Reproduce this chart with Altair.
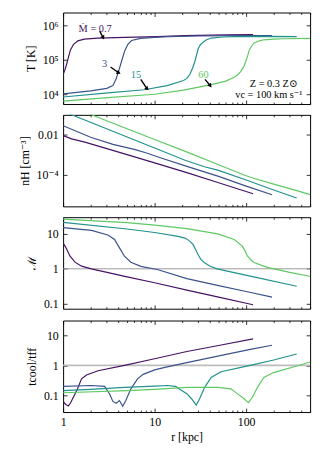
import altair as alt
import pandas as pd

FONT = "Liberation Serif, DejaVu Serif, serif"
series = ["0.7", "3", "15", "60"]
colors = ["#471365", "#3b528b", "#21918c", "#5ec962"]

# ---- panel 1: log10 T [K] vs r [kpc] ----
T_r_a = [1.0, 1.05, 1.1, 1.15, 1.2, 1.3, 1.45, 1.7, 2.4, 4.7, 10.7, 21.5, 60, 119]
T_v_a = [4.57, 4.72, 4.9, 5.1, 5.28, 5.45, 5.55, 5.60, 5.63, 5.65, 5.67, 5.70, 5.72, 5.73]
T_r_b = [1, 1.5, 2, 3, 3.5, 3.8, 4.1, 4.4, 4.7, 5.1, 5.6, 7, 10, 14, 30, 80, 192]
T_v_b = [4.01, 4.06, 4.10, 4.17, 4.25, 4.45, 4.72, 5.0, 5.25, 5.45, 5.56, 5.62, 5.65, 5.67, 5.69, 5.70, 5.70]
T_r_c = [1, 3.09, 7.7, 13.7, 20.7, 22.5, 24.3, 26, 27.5, 29.9, 31.5, 33.8, 37, 41.6, 55, 74, 170, 357]
T_v_c = [3.92, 4.04, 4.13, 4.25, 4.40, 4.46, 4.58, 4.76, 4.95, 5.32, 5.43, 5.51, 5.58, 5.63, 5.66, 5.67, 5.68, 5.67]
T_r_d = [1, 3.09, 10, 20.7, 41.6, 60, 74, 82, 88, 94, 99, 104, 108, 115, 122, 140, 156, 200, 257, 510]
T_v_d = [3.80, 3.90, 4.0, 4.12, 4.28, 4.38, 4.49, 4.58, 4.67, 4.80, 4.95, 5.12, 5.28, 5.40, 5.49, 5.55, 5.58, 5.60, 5.61, 5.62]

# ---- panel 2: log10 n_H [cm^-3] ----
n_r_a = [1, 1.24, 1.73, 5, 10, 22.5, 50, 119]
n_v_a = [-2.05, -2.21, -2.37, -2.99, -3.40, -3.88, -4.38, -4.93]
n_r_b = [1, 2, 3.5, 4.7, 6, 8, 12, 22.5, 50, 100, 192]
n_v_b = [-1.56, -2.13, -2.48, -2.62, -2.73, -2.90, -3.17, -3.57, -4.07, -4.55, -4.98]
n_r_c = [1, 1.24, 2.4, 5, 10, 21.5, 35, 49, 100, 200, 357]
n_v_c = [-0.85, -1.02, -1.54, -2.12, -2.66, -3.27, -3.59, -3.76, -4.25, -4.74, -5.14]
n_r_d = [1, 2.04, 5, 10, 22, 50, 95, 110, 121, 200, 350, 510]
n_v_d = [-0.47, -1.02, -1.71, -2.24, -2.84, -3.49, -4.0, -4.10, -4.16, -4.45, -4.76, -4.98]

# ---- panel 3: log10 Mach number ----
M_r_a = [1, 1.05, 1.1, 1.19, 1.35, 1.59, 2.04, 5, 10, 22.5, 50, 119]
M_v_a = [0.74, 0.65, 0.55, 0.36, 0.19, 0.075, 0.0, -0.23, -0.40, -0.61, -0.81, -1.03]
M_r_b = [1, 2.04, 3.09, 3.65, 4.13, 4.68, 5.5, 7.07, 10.7, 22.5, 50, 100, 192]
M_v_b = [1.18, 1.10, 0.97, 0.84, 0.60, 0.36, 0.19, 0.07, -0.02, -0.28, -0.48, -0.65, -0.81]
M_r_c = [1, 5, 10, 18, 21.5, 24, 26.4, 28, 29.9, 32, 35.2, 40, 48, 111, 357]
M_v_c = [1.33, 1.14, 1.04, 0.93, 0.88, 0.80, 0.69, 0.55, 0.40, 0.27, 0.17, 0.08, 0.0, -0.21, -0.50]
M_r_d = [1, 5, 10, 22.5, 49, 74, 90.8, 97, 103, 112, 122, 170, 300, 510]
M_v_d = [1.42, 1.32, 1.25, 1.15, 1.0, 0.84, 0.65, 0.52, 0.37, 0.26, 0.18, 0.04, -0.10, -0.22]

# ---- panel 4: log10 t_cool / t_ff ----
C_r_a = [1, 1.07, 1.14, 1.2, 1.29, 1.41, 1.59, 1.8, 2.41, 4.68, 10, 22.5, 50, 119]
C_v_a = [-1.20, -1.30, -1.35, -1.26, -1.07, -0.84, -0.45, -0.32, -0.18, 0.0, 0.22, 0.46, 0.66, 0.88]
C_r_b = [1, 2.04, 2.84, 3.22, 3.5, 3.8, 4.13, 4.48, 4.86, 5.5, 6.5, 7.5, 10, 13.7, 22.5, 49, 111, 192]
C_v_b = [-0.70, -0.67, -0.70, -0.95, -1.20, -1.26, -1.17, -1.36, -1.16, -0.78, -0.45, -0.30, -0.15, -0.05, 0.09, 0.31, 0.53, 0.67]
C_r_c = [1, 2, 4.68, 10, 13.7, 17, 19, 22.5, 25.3, 28.5, 31, 35.2, 41.5, 53, 111, 200, 357]
C_v_c = [-0.84, -0.80, -0.73, -0.69, -0.67, -0.70, -0.80, -0.94, -1.11, -1.32, -1.11, -0.73, -0.40, -0.21, 0.0, 0.18, 0.38]
C_r_d = [1, 5, 10, 22.5, 49, 68, 80, 95, 106, 117, 133, 156, 199, 357, 510]
C_v_d = [-0.91, -0.84, -0.80, -0.73, -0.73, -0.78, -0.94, -1.11, -1.24, -1.06, -0.73, -0.40, -0.24, -0.02, 0.12]

# ---- annotations (panel 1) ----
lab_text = ["Ṁ = 0.7", "3", "15", "60"]
lab_r = [2.24, 2.84, 6.24, 34.1]
lab_logT = [5.89, 4.89, 4.55, 4.57]
arr_r0 = [2.51, 3.3, 7.06, 35.5]
arr_logT0 = [5.83, 4.79, 4.43, 4.43]
arr_r1 = [2.72, 4.0, 8.2, 40.2]
arr_logT1 = [5.66, 4.63, 4.17, 4.26]
arr_angle = [153, 117, 135, 143]
note_text = ["Z = 0.3 Z⊙", "vc = 100 km s⁻¹"]
note_r = [200, 177]
note_logT = [4.30, 3.97]

# ---- axes ----
X_DOMAIN = [1, 500]
X_MAJOR = [1, 10, 100]
X_LABELS = ["1", "10", "100"]
X_MINOR = [2, 3, 4, 5, 6, 7, 8, 9, 20, 30, 40, 50, 60, 70, 80, 90, 200, 300, 400, 500]

panels = [
    dict(title="T [K]", dom=[5.2e3, 2.35e6], ticks=[1e4, 1e5, 1e6], labels=["10⁴", "10⁵", "10⁶"],
         data=[(T_r_a, T_v_a), (T_r_b, T_v_b), (T_r_c, T_v_c), (T_r_d, T_v_d)], ref=None),
    dict(title="nH [cm⁻³]", dom=[2.8e-6, 0.095], ticks=[1e-4, 1e-2], labels=["10⁻⁴", "0.01"],
         data=[(n_r_a, n_v_a), (n_r_b, n_v_b), (n_r_c, n_v_c), (n_r_d, n_v_d)], ref=None),
    dict(title="ℳ", dom=[0.072, 30], ticks=[0.1, 1, 10], labels=["0.1", "1", "10"],
         data=[(M_r_a, M_v_a), (M_r_b, M_v_b), (M_r_c, M_v_c), (M_r_d, M_v_d)], ref=("#999999", 1.0)),
    dict(title="tcool/tff", dom=[0.028, 31], ticks=[0.1, 1, 10], labels=["0.1", "1", "10"],
         data=[(C_r_a, C_v_a), (C_r_b, C_v_b), (C_r_c, C_v_c), (C_r_d, C_v_d)], ref=("#bdbdbd", 1.8)),
]


def label_expr(values, labels):
    parts = [f"datum.value == {v!r} ? '{l}'" for v, l in zip(values, labels)]
    return " : ".join(parts) + " : ''"


W, H = 251, 93
color_scale = alt.Scale(domain=series, range=colors)
xscale = alt.Scale(type="log", domain=X_DOMAIN, nice=False)


def make_panel(i, p):
    rows = []
    for s, (rs, vs) in zip(series, p["data"]):
        for k, (r, v) in enumerate(zip(rs, vs)):
            rows.append({"series": s, "r": r, "v": 10 ** v, "k": k})
    df = pd.DataFrame(rows)
    yscale = alt.Scale(type="log", domain=p["dom"], nice=False)
    bottom = i == 3

    ax_bottom = alt.Axis(orient="bottom", values=X_MAJOR, tickSize=4, offset=-4, domain=False, grid=False,
                         labels=bottom, labelExpr=label_expr(X_MAJOR, X_LABELS), labelFlush=False,
                         labelPadding=5, titlePadding=4, title="r [kpc]" if bottom else None)
    ax_bottom_minor = alt.Axis(orient="bottom", values=X_MINOR, tickSize=2, offset=-2, domain=False,
                               grid=False, labels=False, title=None)
    ax_top = alt.Axis(orient="top", values=X_MAJOR, tickSize=4, offset=-4, domain=False, grid=False,
                      labels=False, title=None)
    ax_top_minor = alt.Axis(orient="top", values=X_MINOR, tickSize=2, offset=-2, domain=False,
                            grid=False, labels=False, title=None)
    ax_left = alt.Axis(orient="left", values=p["ticks"], tickSize=4, offset=-4, domain=False, grid=False,
                       labelExpr=label_expr(p["ticks"], p["labels"]), labelPadding=5, titlePadding=5,
                       title=p["title"])
    ax_right = alt.Axis(orient="right", values=p["ticks"], tickSize=4, offset=-4, domain=False, grid=False,
                        labels=False, title=None)

    base = alt.Chart(df)
    lines = base.mark_line(strokeWidth=1.2, clip=True).encode(
        x=alt.X("r:Q", scale=xscale, axis=ax_bottom),
        y=alt.Y("v:Q", scale=yscale, axis=ax_left),
        color=alt.Color("series:N", scale=color_scale, legend=None),
        order="k:Q",
    )
    inv1 = base.mark_line(opacity=0, clip=True).encode(
        x=alt.X("r:Q", scale=xscale, axis=ax_bottom_minor),
        y=alt.Y("v:Q", scale=yscale, axis=ax_right),
        detail="series:N",
    )
    inv2 = base.mark_line(opacity=0, clip=True).encode(
        x=alt.X("r:Q", scale=xscale, axis=ax_top),
        y=alt.Y("v:Q", scale=yscale, axis=None),
        detail="series:N",
    )
    inv3 = base.mark_line(opacity=0, clip=True).encode(
        x=alt.X("r:Q", scale=xscale, axis=ax_top_minor),
        y=alt.Y("v:Q", scale=yscale, axis=None),
        detail="series:N",
    )
    layers = []
    if p["ref"] is not None:
        col, w = p["ref"]
        ref = alt.Chart(pd.DataFrame({"v": [1.0]})).mark_rule(color=col, strokeWidth=w).encode(
            y=alt.Y("v:Q", scale=yscale, axis=None))
        layers.append(ref)
    layers += [lines, inv1, inv2, inv3]

    if i == 0:
        lab_df = pd.DataFrame({"text": lab_text, "r": lab_r, "v": [10 ** t for t in lab_logT],
                               "series": series})
        labels = alt.Chart(lab_df).mark_text(fontSize=10.5, font=FONT).encode(
            x=alt.X("r:Q", scale=xscale, axis=None),
            y=alt.Y("v:Q", scale=yscale, axis=None),
            text="text:N",
            color=alt.Color("series:N", scale=color_scale, legend=None),
        )
        arr_df = pd.DataFrame({"r0": arr_r0, "v0": [10 ** t for t in arr_logT0],
                               "r1": arr_r1, "v1": [10 ** t for t in arr_logT1], "ang": arr_angle})
        shafts = alt.Chart(arr_df).mark_rule(color="black", strokeWidth=1.4).encode(
            x=alt.X("r0:Q", scale=xscale, axis=None), y=alt.Y("v0:Q", scale=yscale, axis=None),
            x2="r1:Q", y2="v1:Q")
        heads = alt.Chart(arr_df).mark_point(shape="triangle", filled=True, color="black", size=22,
                                             opacity=1).encode(
            x=alt.X("r1:Q", scale=xscale, axis=None), y=alt.Y("v1:Q", scale=yscale, axis=None),
            angle=alt.Angle("ang:Q", scale=None))
        note_df = pd.DataFrame({"text": note_text, "r": note_r, "v": [10 ** t for t in note_logT]})
        notes = alt.Chart(note_df).mark_text(fontSize=10.5, font=FONT, color="black").encode(
            x=alt.X("r:Q", scale=xscale, axis=None), y=alt.Y("v:Q", scale=yscale, axis=None),
            text="text:N")
        layers += [shafts, heads, labels, notes]

    return alt.layer(*layers).resolve_axis(x="independent", y="independent").properties(width=W, height=H)


chart = alt.vconcat(*[make_panel(i, p) for i, p in enumerate(panels)], spacing=9).properties(
    padding={"left": 9, "top": 0, "right": 5, "bottom": 5}
).configure_view(stroke="black", strokeWidth=1).configure_axis(
    labelFont=FONT, titleFont=FONT, labelFontSize=12, titleFontSize=12, labelColor="black",
    titleColor="black", tickColor="black", tickWidth=0.8, titleFontWeight="normal"
).configure_text(font=FONT)

chart.save("out.html", embed_options={"renderer": "svg", "actions": False})
